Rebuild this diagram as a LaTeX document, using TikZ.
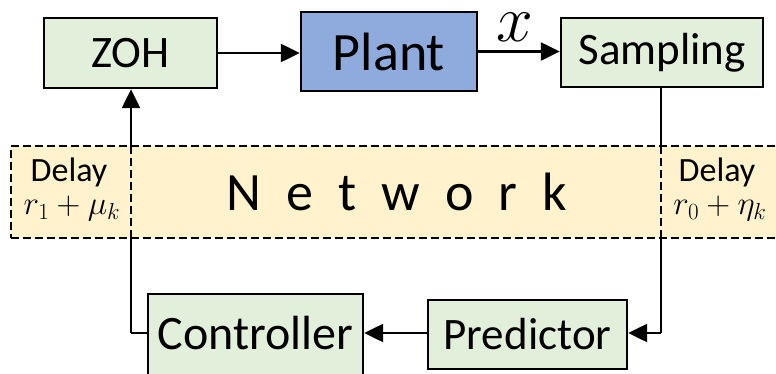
\RequirePackage{fix-cm}
\documentclass[tikz,border=0pt]{standalone}
\usepackage{fontspec}
\setmainfont{Carlito}
\usetikzlibrary{arrows.meta}
\definecolor{boxgreen}{HTML}{E2EFDA}
\definecolor{plantblue}{HTML}{8FAADC}
\definecolor{netyellow}{HTML}{FFF2CC}
\tikzset{
  blk/.style={draw=black, line width=2.4pt, fill=boxgreen, inner sep=0pt, font=\fontsize{45}{48}\selectfont},
  conn/.style={line width=2.4pt, -{Triangle[length=19pt,width=18pt]}},
  plain/.style={line width=2.4pt},
  netdash/.style={line width=2.2pt, dash pattern=on 8pt off 4pt},
  dlab/.style={inner sep=0pt, align=center, font=\fontsize{34}{40}\selectfont},
  mlab/.style={inner sep=0pt, font=\fontsize{33}{40}\selectfont},
}
\begin{document}
\begin{tikzpicture}[x=1pt,y=-1pt]
\useasboundingbox (0,0) rectangle (776,373);
\clip (0,0) rectangle (776,373);
% blocks
\node[blk, minimum width=173pt, minimum height=70pt, font=\fontsize{45}{48}\selectfont] (zoh) at (130.5,53) {ZOH};
\node[blk, fill=plantblue, minimum width=176pt, minimum height=79pt, font=\fontsize{54}{58}\selectfont] (plant) at (389,51.5) {Plant};
\node[blk, minimum width=202pt, minimum height=69pt] (samp) at (662,52.5) {Sampling};
\node[blk, minimum width=215pt, minimum height=100pt] (ctrl) at (255.5,344) {};
\node[inner sep=0pt, font=\fontsize{48}{52}\selectfont] (ctrltxt) at (255.5,333) {Controller};
\node[blk, minimum width=199pt, minimum height=69pt] (pred) at (527.5,334.5) {Predictor};
% connectors
\draw[conn] (zoh.east) -- (zoh.east -| plant.west);
\draw[conn] (plant.east) -- (plant.east -| samp.west);
\node[inner sep=0pt, font=\fontsize{66}{70}\selectfont] (xlab) at (515,27) {$x$};
\coordinate (lcorner) at (131,333);
\coordinate (rcorner) at (661,333);
\draw[plain] (ctrl.west |- lcorner) -- (lcorner);
\draw[conn] (lcorner) -- (lcorner |- zoh.south);
\draw[plain] (samp.south -| rcorner) -- (rcorner);
\draw[conn] (rcorner) -- (rcorner -| pred.east);
\draw[conn] (pred.west |- lcorner) -- (lcorner -| ctrl.east);
% network
\node[draw=black, netdash, fill=netyellow, inner sep=0pt, minimum width=780pt, minimum height=92pt] (net) at (401,192) {};
\draw[netdash] (131,146) -- (131,238);
\draw[netdash] (661,146) -- (661,238);
\node[inner sep=0pt, font=\fontsize{54}{58}\selectfont] (nettxt) at (397,192) {{\spaceskip=25pt N e t w o r k}};
\node[dlab] (dl1) at (69,172) {Delay};
\node[mlab] (dl2) at (72,208) {$r_1+\mu_k$};
\node[dlab] (dr1) at (717,172) {Delay};
\node[mlab] (dr2) at (720,208) {$r_0+\eta_k$};
\end{tikzpicture}
\end{document}
